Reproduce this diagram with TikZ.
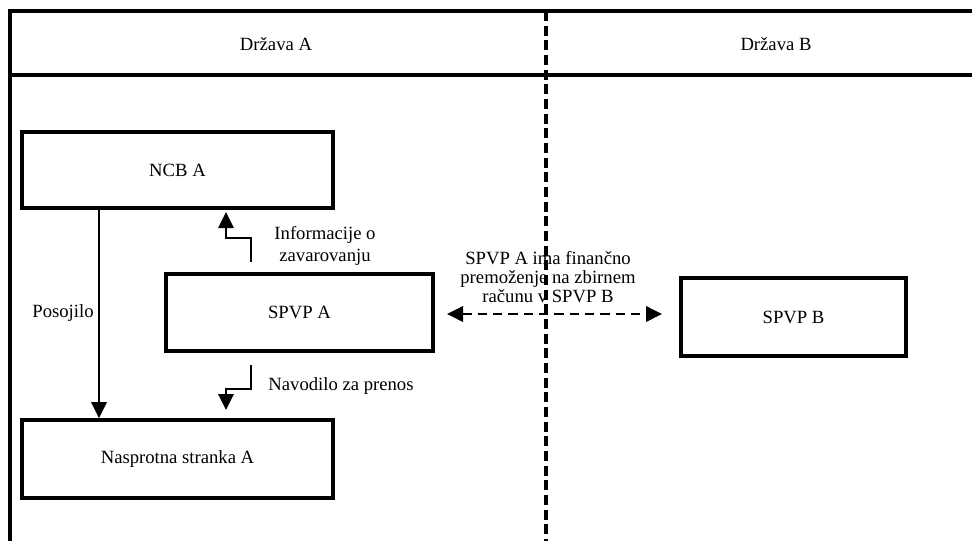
\documentclass[tikz,border=0pt]{standalone}
\usepackage{fontspec}
\setmainfont{Liberation Serif}
\usetikzlibrary{arrows.meta}
\tikzset{
  box/.style={draw, line width=2.7pt, rectangle, inner sep=0pt, font=\fontsize{14}{17}\selectfont},
  lbl/.style={inner sep=0pt, font=\fontsize{14}{17}\selectfont, align=center},
  frameline/.style={line width=2.7pt},
  arr/.style={line width=1.8pt, -{Triangle[width=11.5pt,length=12pt]}},
  dblarr/.style={line width=1.9pt, dash pattern=on 7pt off 4.5pt, {Triangle[width=11.5pt,length=12pt]}-{Triangle[width=11.5pt,length=12pt]}},
  divider/.style={line width=2.5pt, dash pattern=on 7.5pt off 3.5pt}
}
\begin{document}
\begin{tikzpicture}[x=0.75pt,y=-0.75pt]
\useasboundingbox (0,0) rectangle (972,540);
% frame
\coordinate (ftl) at (10,11);
\coordinate (ftr) at (975,11);
\coordinate (fbl) at (10,543);
\coordinate (hl) at (10,75);
\coordinate (hr) at (975,75);
\draw[frameline] (fbl) -- (ftl) -- (ftr);
\draw[frameline] (hl) -- (hr);
% header texts
\node[lbl] (da) at (276,44) {Država A};
\node[lbl] (db) at (776,44) {Država B};
% boxes
\node[box, minimum width=233.25pt, minimum height=57pt] (ncb) at (177.5,170) {NCB A};
\node[box, minimum width=200.25pt, minimum height=57.75pt] (spa) at (299.5,312.5) {SPVP A};
\node[box, minimum width=168.75pt, minimum height=58.5pt] (spb) at (793.5,317) {SPVP B};
\node[box, minimum width=233.25pt, minimum height=58.5pt] (nas) at (177.5,459) {Nasprotna stranka A};
% Posojilo
\coordinate (px) at (99,0);
\draw[arr] (ncb.south -| px) -- (nas.north -| px);
\node[lbl] (pos) at (63,313) {Posojilo};
% Informacije arrow
\coordinate (i1) at (251,262);
\coordinate (i2) at (251,238);
\coordinate (i3) at (226,238);
\coordinate (i4) at (226,212);
\draw[arr] (i1) -- (i2) -- (i3) -- (i4);
\node[lbl, font=\fontsize{14}{16.5}\selectfont] (inf) at (325,246) {Informacije o\\zavarovanju};
% Navodilo arrow
\coordinate (n1) at (251,365);
\coordinate (n2) at (251,389);
\coordinate (n3) at (226,389);
\coordinate (n4) at (226,410);
\draw[arr] (n1) -- (n2) -- (n3) -- (n4);
\node[lbl] (nav) at (341,386) {Navodilo za prenos};
% dashed double arrow
\coordinate (d1) at (447,314);
\coordinate (d2) at (662,314);
\draw[dblarr] (d1) -- (d2);
\node[lbl, font=\fontsize{14}{14.3}\selectfont] (fin) at (548,277) {SPVP A ima finančno\\premoženje na zbirnem\\računu v SPVP B};
% divider
\coordinate (vt) at (546,11);
\coordinate (vb) at (546,543);
\draw[divider] (vt) -- (vb);
\end{tikzpicture}
\end{document}
